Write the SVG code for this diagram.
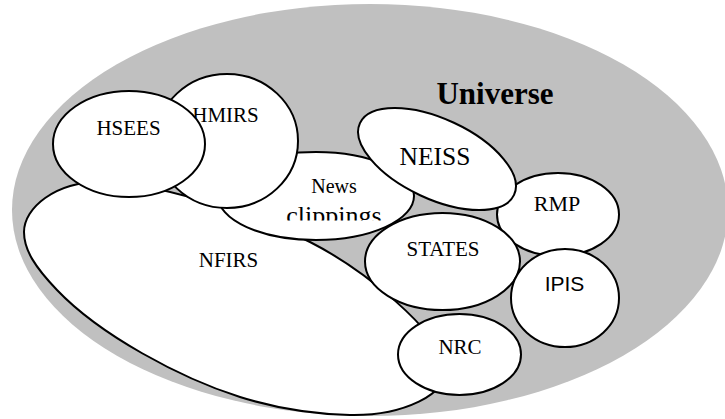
<svg xmlns="http://www.w3.org/2000/svg" width="725" height="419" viewBox="0 0 725 419">
<style>
.n{fill:#fff;stroke:#000;stroke-width:2}
.t{font-family:"Liberation Serif","Times New Roman",serif;font-size:21px;fill:#000;text-anchor:middle}
.s{font-family:"Liberation Sans",Arial,sans-serif}
</style>
<defs>
<clipPath id="clipNews"><rect x="200" y="150" width="220" height="70.5"/></clipPath>
</defs>
<rect width="725" height="419" fill="#fff"/>
<g id="universe">
<ellipse cx="370" cy="210" rx="358" ry="206" fill="#c0c0c0"/>
<text class="t" x="495" y="104" style="font-size:31px;font-weight:bold">Universe</text>
</g>
<g id="NFIRS">
<path class="n" d="M24,232 C24,208 55,182 100,182 C150,181 250,212 310,242 C365,270 437,330 445,365 C452,395 400,416 350,415 C310,414 275,408 240,397 C180,378 100,335 57,290 C35,267 24,250 24,232 Z"/>
<text class="t" x="228.5" y="267">NFIRS</text>
</g>
<g id="news">
<ellipse class="n" cx="316" cy="196" rx="98" ry="44"/>
<text class="t" x="334" y="192.5" style="font-size:20px">News</text>
<text class="t" x="334" y="224" style="font-size:26px" clip-path="url(#clipNews)">clippings</text>
</g>
<g id="HMIRS">
<ellipse class="n" cx="227" cy="141" rx="71" ry="67"/>
<text class="t" x="225.5" y="122">HMIRS</text>
</g>
<g id="HSEES">
<ellipse class="n" cx="129" cy="144" rx="76" ry="53"/>
<text class="t" x="128.5" y="135">HSEES</text>
</g>
<g id="RMP">
<ellipse class="n" cx="558" cy="214.5" rx="61" ry="41.5"/>
<text class="t" x="557" y="211" style="font-size:22px">RMP</text>
</g>
<g id="NEISS">
<ellipse class="n" cx="437" cy="159" rx="85" ry="40" transform="rotate(25 437 159)"/>
<text class="t" x="435" y="165" style="font-size:25.5px">NEISS</text>
</g>
<g id="STATES">
<ellipse class="n" cx="442.5" cy="261.5" rx="77.5" ry="48.5"/>
<text class="t" x="443" y="255.5">STATES</text>
</g>
<g id="IPIS">
<ellipse class="n" cx="565" cy="298" rx="54" ry="49"/>
<text class="t s" x="564.5" y="291">IPIS</text>
</g>
<g id="NRC">
<ellipse class="n" cx="459.5" cy="354.5" rx="61.5" ry="40.5"/>
<text class="t" x="460" y="354">NRC</text>
</g>
<g id="connectors"/>
</svg>
